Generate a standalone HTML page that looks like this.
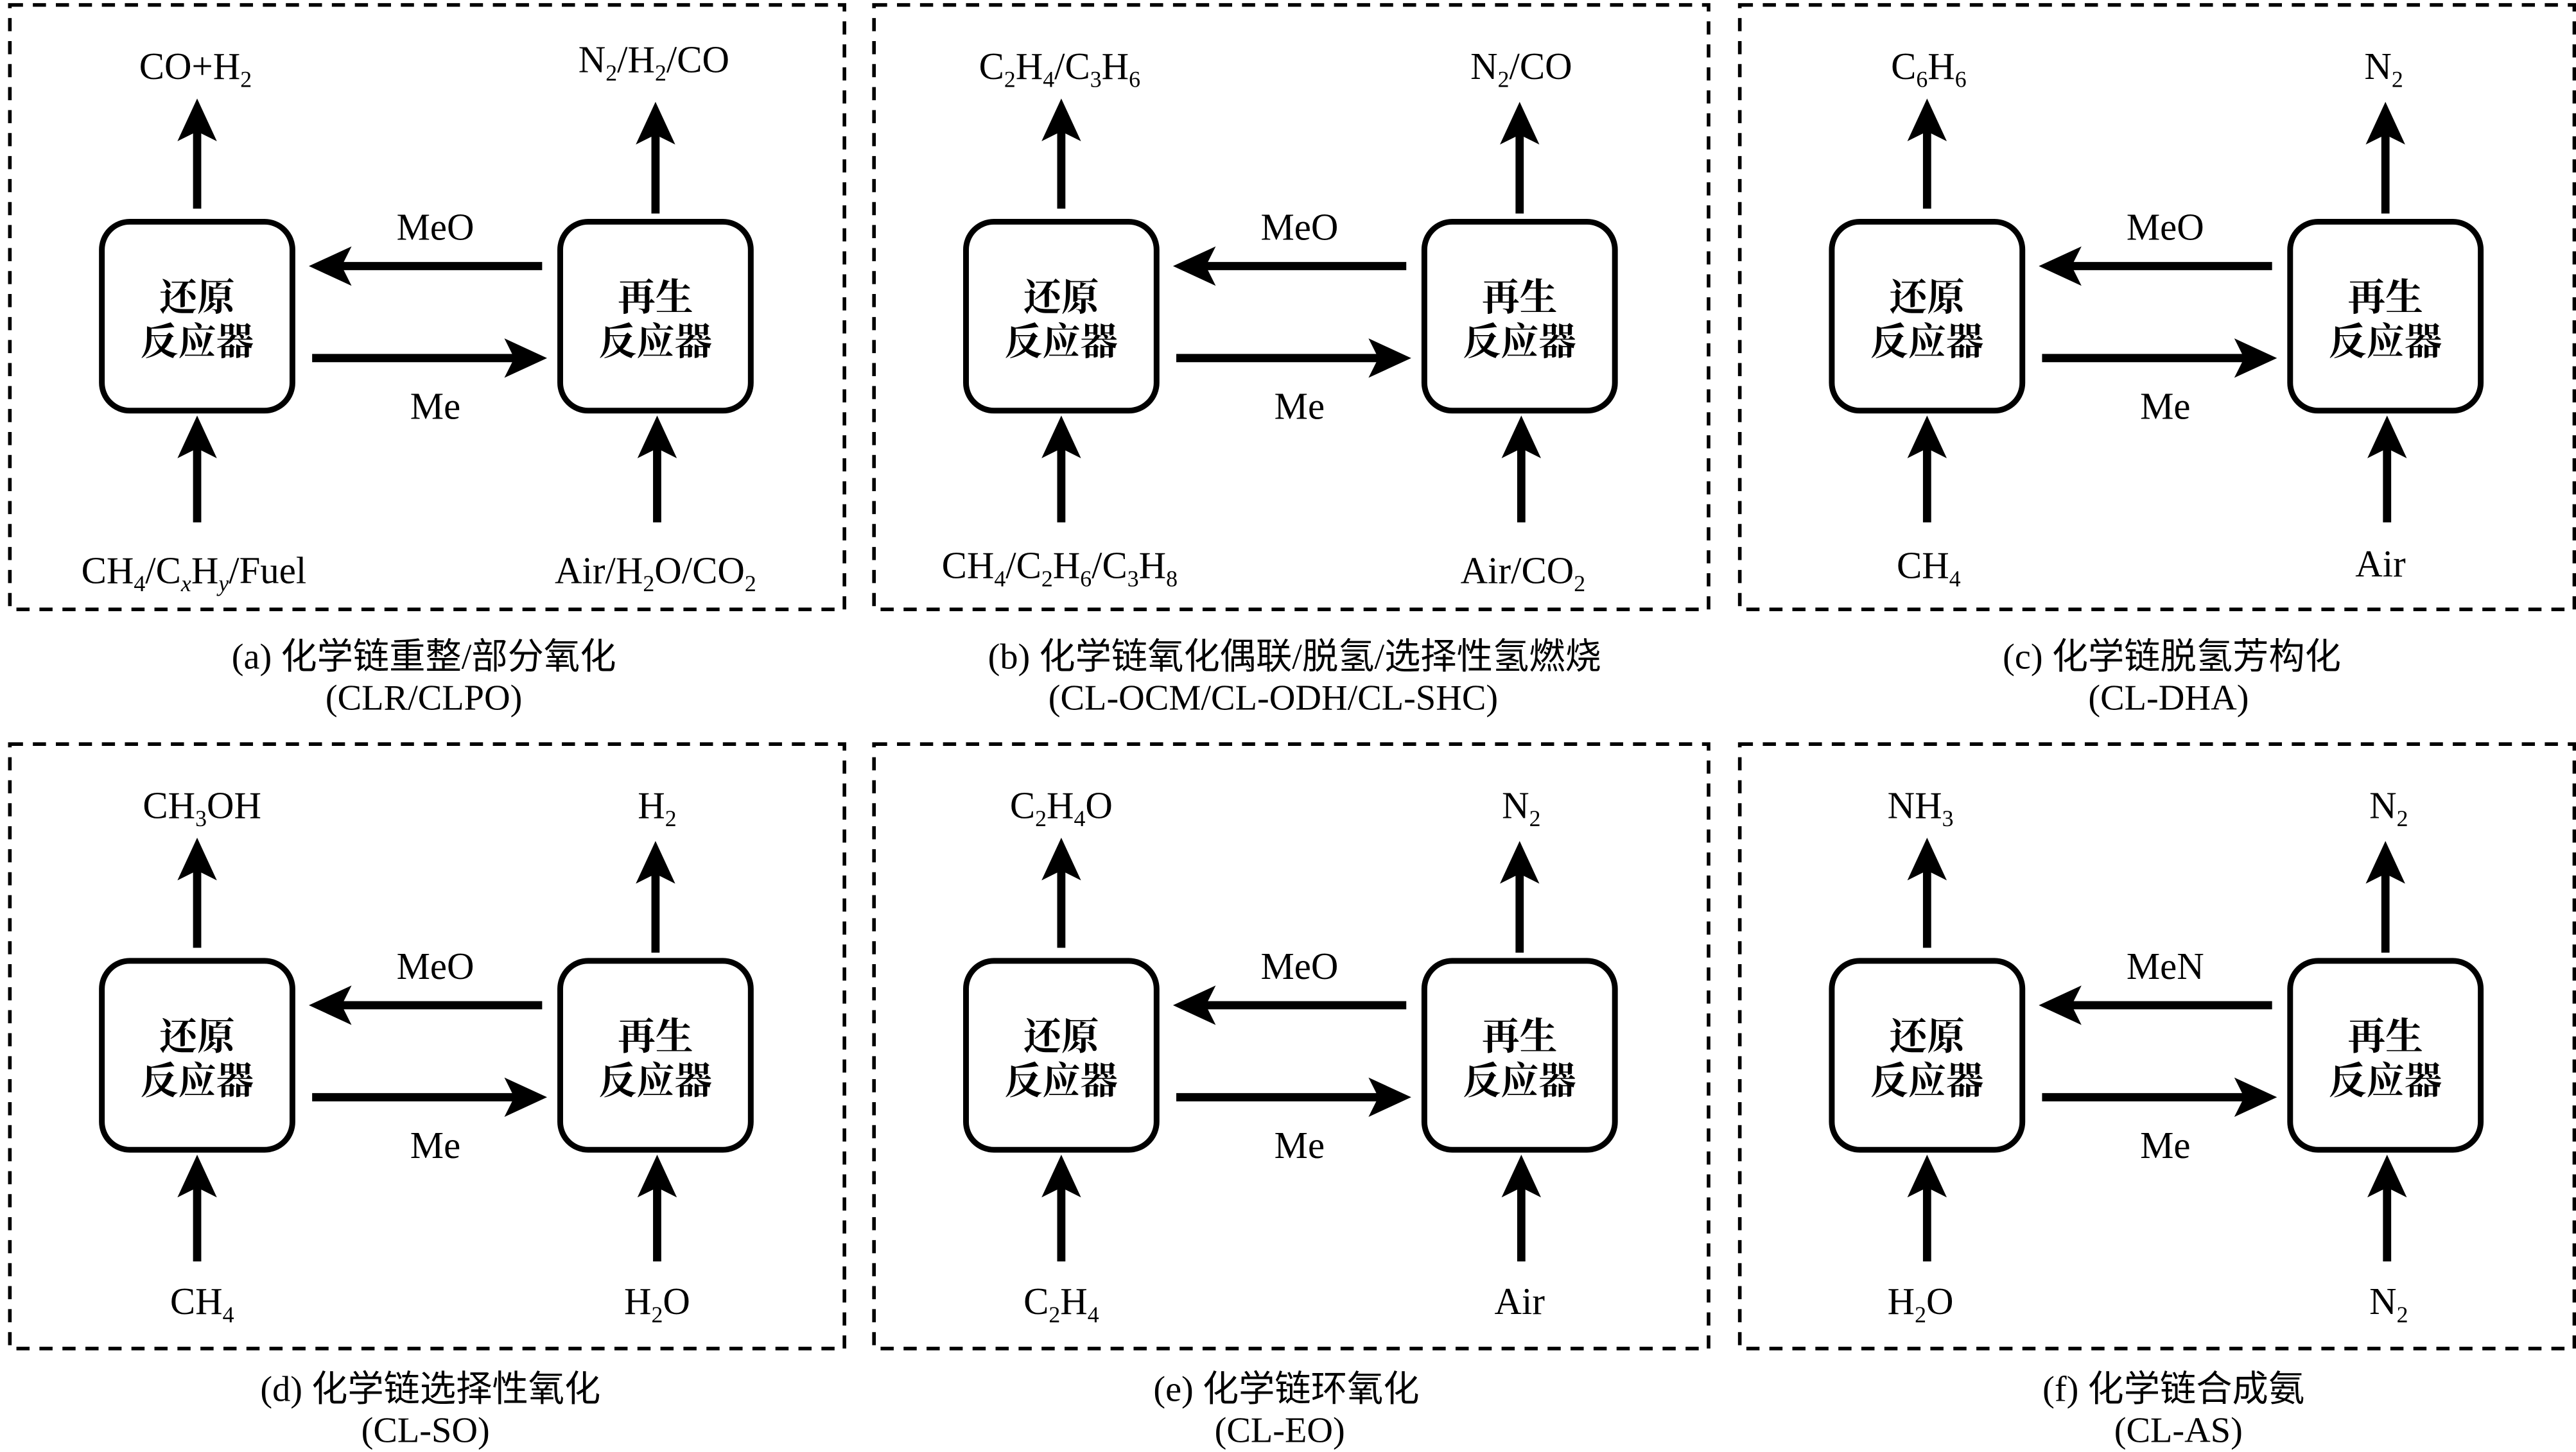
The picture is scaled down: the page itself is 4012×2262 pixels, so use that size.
<!DOCTYPE html>
<html><head><meta charset="utf-8"><style>
html,body{margin:0;padding:0;background:#fff;width:4012px;height:2262px;overflow:hidden}
svg{display:block}
text{font-family:"Liberation Serif","Noto Serif CJK SC",serif;fill:#000}
.l{font-size:23px;text-anchor:middle}
.c{font-family:"Liberation Serif","Noto Serif CJK SC",serif;font-size:23px;text-anchor:middle;font-weight:bold}
.cap{font-family:"Liberation Serif","Noto Sans CJK SC",sans-serif;font-size:22px;text-anchor:middle}
.s{font-size:14px}
</style></head><body>
<svg width="4012" height="2262" viewBox="0 0 1568 884" preserveAspectRatio="none" xmlns="http://www.w3.org/2000/svg">
<defs>
<g id="b">
<rect x="6" y="3" width="508" height="368" fill="none" stroke="#000" stroke-width="2.2" stroke-dasharray="8,6"/>
<rect x="62" y="135" width="116" height="115" rx="17" fill="none" stroke="#000" stroke-width="3.5"/>
<rect x="341" y="135" width="116" height="115" rx="17" fill="none" stroke="#000" stroke-width="3.5"/>
<g stroke="#000" stroke-width="5">
<line x1="120" y1="127" x2="120" y2="78"/>
<line x1="399" y1="130" x2="399" y2="78"/>
<line x1="120" y1="318" x2="120" y2="270"/>
<line x1="400" y1="318" x2="400" y2="270"/>
<line x1="330" y1="162" x2="205" y2="162"/>
<line x1="190" y1="218" x2="315" y2="218"/>
</g>
<g fill="#000">
<polygon points="120,60 108,86 120,80 132,86"/>
<polygon points="399,62 387,88 399,82 411,88"/>
<polygon points="120,253 108,279 120,273 132,279"/>
<polygon points="400,253 388,279 400,273 412,279"/>
<polygon points="188,162 214,150 208,162 214,174"/>
<polygon points="333,218 307,206 313,218 307,230"/>
</g>
<text class="l" x="265" y="255">Me</text>
<text class="c" x="120" y="189">还原</text>
<text class="c" x="120" y="216">反应器</text>
<text class="c" x="399" y="189">再生</text>
<text class="c" x="399" y="216">反应器</text>
</g>
<g id="p"><use href="#b"/><text class="l" x="265" y="146">MeO</text></g>
</defs>

<!-- (a) -->
<use href="#p" x="0" y="0"/>
<text class="l" x="119" y="48">CO+H<tspan class="s" dy="5">2</tspan></text>
<text class="l" x="398" y="44">N<tspan class="s" dy="5">2</tspan><tspan dy="-5">/H</tspan><tspan class="s" dy="5">2</tspan><tspan dy="-5">/CO</tspan></text>
<text class="l" x="118" y="355">CH<tspan class="s" dy="5">4</tspan><tspan dy="-5">/C</tspan><tspan class="s" dy="5" font-style="italic">x</tspan><tspan dy="-5">H</tspan><tspan class="s" dy="5" font-style="italic">y</tspan><tspan dy="-5">/Fuel</tspan></text>
<text class="l" x="399" y="355">Air/H<tspan class="s" dy="5">2</tspan><tspan dy="-5">O/CO</tspan><tspan class="s" dy="5">2</tspan></text>
<text class="cap" x="258" y="407">(a) 化学链重整/部分氧化</text>
<text class="cap" x="258" y="432">(CLR/CLPO)</text>

<!-- (b) -->
<use href="#p" x="526" y="0"/>
<text class="l" x="645" y="48">C<tspan class="s" dy="5">2</tspan><tspan dy="-5">H</tspan><tspan class="s" dy="5">4</tspan><tspan dy="-5">/C</tspan><tspan class="s" dy="5">3</tspan><tspan dy="-5">H</tspan><tspan class="s" dy="5">6</tspan></text>
<text class="l" x="926" y="48">N<tspan class="s" dy="5">2</tspan><tspan dy="-5">/CO</tspan></text>
<text class="l" x="645" y="352">CH<tspan class="s" dy="5">4</tspan><tspan dy="-5">/C</tspan><tspan class="s" dy="5">2</tspan><tspan dy="-5">H</tspan><tspan class="s" dy="5">6</tspan><tspan dy="-5">/C</tspan><tspan class="s" dy="5">3</tspan><tspan dy="-5">H</tspan><tspan class="s" dy="5">8</tspan></text>
<text class="l" x="927" y="355">Air/CO<tspan class="s" dy="5">2</tspan></text>
<text class="cap" x="788" y="407">(b) 化学链氧化偶联/脱氢/选择性氢燃烧</text>
<text class="cap" x="775" y="432">(CL-OCM/CL-ODH/CL-SHC)</text>

<!-- (c) -->
<use href="#p" x="1053" y="0"/>
<text class="l" x="1174" y="48">C<tspan class="s" dy="5">6</tspan><tspan dy="-5">H</tspan><tspan class="s" dy="5">6</tspan></text>
<text class="l" x="1451" y="48">N<tspan class="s" dy="5">2</tspan></text>
<text class="l" x="1174" y="352">CH<tspan class="s" dy="5">4</tspan></text>
<text class="l" x="1449" y="351">Air</text>
<text class="cap" x="1322" y="407">(c) 化学链脱氢芳构化</text>
<text class="cap" x="1320" y="432">(CL-DHA)</text>

<!-- (d) -->
<use href="#p" x="0" y="450"/>
<text class="l" x="123" y="498">CH<tspan class="s" dy="5">3</tspan><tspan dy="-5">OH</tspan></text>
<text class="l" x="400" y="498">H<tspan class="s" dy="5">2</tspan></text>
<text class="l" x="123" y="800">CH<tspan class="s" dy="5">4</tspan></text>
<text class="l" x="400" y="800">H<tspan class="s" dy="5">2</tspan><tspan dy="-5">O</tspan></text>
<text class="cap" x="262" y="853">(d) 化学链选择性氧化</text>
<text class="cap" x="259" y="878">(CL-SO)</text>

<!-- (e) -->
<use href="#p" x="526" y="450"/>
<text class="l" x="646" y="498">C<tspan class="s" dy="5">2</tspan><tspan dy="-5">H</tspan><tspan class="s" dy="5">4</tspan><tspan dy="-5">O</tspan></text>
<text class="l" x="926" y="498">N<tspan class="s" dy="5">2</tspan></text>
<text class="l" x="646" y="800">C<tspan class="s" dy="5">2</tspan><tspan dy="-5">H</tspan><tspan class="s" dy="5">4</tspan></text>
<text class="l" x="925" y="800">Air</text>
<text class="cap" x="783" y="853">(e) 化学链环氧化</text>
<text class="cap" x="779" y="878">(CL-EO)</text>

<!-- (f) -->
<use href="#b" x="1053" y="450"/>
<text class="l" x="1318" y="596">MeN</text>
<text class="l" x="1169" y="498">NH<tspan class="s" dy="5">3</tspan></text>
<text class="l" x="1454" y="498">N<tspan class="s" dy="5">2</tspan></text>
<text class="l" x="1169" y="800">H<tspan class="s" dy="5">2</tspan><tspan dy="-5">O</tspan></text>
<text class="l" x="1454" y="800">N<tspan class="s" dy="5">2</tspan></text>
<text class="cap" x="1323" y="853">(f) 化学链合成氨</text>
<text class="cap" x="1326" y="878">(CL-AS)</text>
</svg>
</body></html>
